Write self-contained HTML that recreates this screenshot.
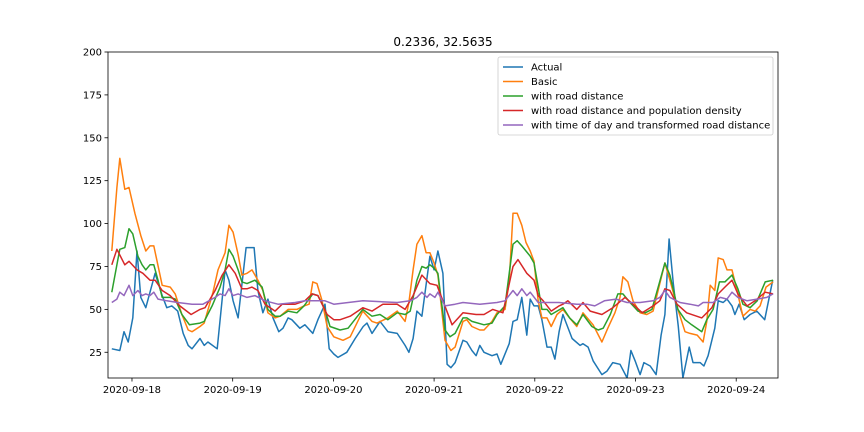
<!DOCTYPE html>
<html><head><meta charset="utf-8"><style>
body{margin:0;background:#fff;}
svg{display:block;font-family:"DejaVu Sans","Liberation Sans",sans-serif;}
</style></head><body>
<svg id="chart" width="864" height="432"></svg>
<script>
const dateLabels=["2020-09-18","2020-09-19","2020-09-20","2020-09-21","2020-09-22","2020-09-23","2020-09-24"];
const dateTickHours=[5,29,53,77,101,125,149];
const yTicks=[25,50,75,100,125,150,175,200];
const seriesNames=["Actual","Basic","with road distance","with road distance and population density","with time of day and transformed road distance"];
const actualHours=[0.2,2.1,3.1,4.1,5.2,6.2,7.1,8.3,9.3,10.5,12.2,13.3,14.5,15.9,17.2,18.4,19.3,21.2,22.2,23.1,25.3,27.2,28.1,29.1,30.3,32.2,34.1,35.0,36.2,37.4,38.6,40.0,41.0,42.2,43.1,45.0,46.2,48.1,49.3,51.0,52.0,53.1,54.1,56.2,58.2,60.1,61,62.2,64.1,66,68.2,70.1,71,72,72.9,74.1,76,77,77.9,79.1,80.1,81,82,83.9,84.8,86,87,87.9,88.9,90.8,92,92.9,94.9,95.8,96.8,97.9,99.1,99.9,100.8,101.8,102.7,103.9,104.9,105.8,106.8,107.7,109.9,111.8,112.5,113.7,114.9,117,118.2,119.6,121.3,123,123.9,124.9,126.1,127,128.5,129.9,131.1,132,133,134,135.2,136.3,137.8,138.7,140.4,141.3,142.3,143.9,144.7,145.9,146.8,148,148.7,149.7,150.9,152.3,153.9,155.8,157.7];
const actualValues=[27,26,37,31,45,84,57,51,60,71,58,51,52,49,36,29,27,33,29,31,27,73,67,55,45,86,86,61,48,56,45,37,39,45,44,39,41,36,44,53,27,24,22,25,33,40,42,36,43,37,36,29,25,33,49,46,81,73,84,71,18,16,19,32,31,26,23,29,25,23,24,18,30,43,44,57,35,56,52,52,44,28,28,21,37,47,33,29,30,28,20,12,14,19,18,10,26,20,12,19,17,12,35,47,91,65,40,10,28,19,19,17,23,39,55,54,56,52,47,53,44,47,49,44,67];
const basicHours=[0.2,1.4,2.1,3.3,4.3,5.7,7.1,8.3,9.3,10.2,12.2,14.1,15.3,16.9,18.4,19.3,21.2,22.2,24.3,25.5,27.2,28.1,29.1,30.3,31.2,32.4,33.6,35.0,36.2,37.4,39.1,40.3,42.2,44.3,46.0,47.2,48.1,49.1,50.3,51.5,53.1,55.3,57,60,62.2,63.4,66,68.2,70.1,71,72,72.9,74.1,75.1,76,77,77.9,79.6,81,82,83.9,84.8,86,87.9,88.9,90.8,92,93.9,94.9,95.8,96.8,97.9,98.9,99.9,100.8,101.8,102.7,103.9,104.9,106.3,107.7,109.3,111,112.5,114.9,117,118.4,120.1,121.3,122,123.2,124.4,126.1,127.7,129.2,130.8,132,133.2,135.1,136.8,138,139.7,141.1,142,142.8,143.9,144.7,145.9,146.8,148,149.2,150.6,152.3,153.5,154.7,156.1,157.8];
const basicValues=[84,121,138,120,121,106,93,84,87,87,64,63,59,47,38,37,40,42,60,73,83,99,95,82,70,71,73,67,61,48,45,46,50,50,52,53,66,65,55,40,34,32,34,49,43,42,45,49,43,54,73,88,93,83,83,77,70,32,26,28,43,44,40,38,38,43,48,50,66,106,106,99,89,84,78,55,45,45,40,47,50,45,40,48,41,31,39,48,57,69,66,55,48,47,49,65,77,67,50,37,36,35,31,43,64,61,80,79,73,73,61,46,50,49,52,63,66];
const roadHours=[0.2,1.4,2.1,3.3,4.3,5.2,6.4,7.4,8.3,9.3,10.2,11.2,12.2,14.1,15.3,16.9,18.7,21.2,22.2,24.1,26,27.2,28.1,29.1,30.3,31.2,32.4,34.3,36,37.4,39.1,40.3,42.2,44.3,46,48.1,49.3,51,52.2,54.6,56.5,60,62.2,64.1,66,68.2,70.1,71.3,72.9,74.1,75.1,76,77,77.9,79.6,80.8,82,83.9,84.8,86,88.9,90.8,92,93.9,95.8,96.8,97.9,99.9,100.8,101.8,102.7,103.9,104.9,106.3,107.7,109.3,111,112.5,114.6,116.1,117.3,119,120.8,122,123.7,125.6,127.3,128.9,130.4,132,133.2,135.1,136.8,138.4,140.8,142,143.5,145,146.3,148,149.4,150.6,152.3,154,155.9,157.8];
const roadValues=[60,76,85,86,97,94,81,76,73,76,76,67,57,57,56,47,41,42,43,52,63,73,85,81,73,66,65,67,63,50,46,46,49,48,52,59,58,50,40,38,39,50,46,47,44,48,47,49,67,75,74,76,74,71,38,34,36,45,45,43,41,42,47,52,88,90,87,81,77,63,50,50,47,49,51,45,41,47,40,38,39,47,59,59,54,49,48,50,63,77,70,50,44,41,37,44,50,66,66,70,62,53,51,55,66,67];
const popHours=[0.2,1.4,3.3,4.3,6.2,7.6,9.3,10.5,12.2,14.1,16.4,19.1,21.2,22.4,24.8,26.5,28.1,29.6,31.2,32.4,33.6,35,36.7,39.1,40.8,43.9,46.2,47.9,49.3,51.5,53.1,54.6,57,60,62.2,64.8,68.2,70.1,72,74.1,76,77.7,79.1,81.3,83.9,87,88.9,91,93.4,95.8,97,99.1,100.8,101.8,103,104.9,106.8,107.7,108.9,111,112.5,114.2,117,119.6,122.5,124.4,126.6,129.2,130.8,132,133.2,134.9,137.2,140.8,143.2,144.7,146.3,148,149.4,151.6,153.5,155.9,157.8];
const popValues=[76,85,76,78,73,71,67,67,61,58,52,47,50,51,61,70,76,71,62,62,63,61,53,49,53,53,55,59,58,47,44,44,46,51,49,53,53,50,58,70,65,64,55,41,48,47,47,50,48,75,79,71,67,58,55,49,52,53,55,50,54,49,47,51,57,53,48,52,55,62,61,53,48,45,51,59,63,67,59,52,55,60,59];
const todHours=[0.2,1.4,2.1,3.1,4.3,5.2,6.4,7.4,8.3,9.3,10.2,11.2,13.3,15.9,19.3,21.9,24.8,26,27.2,28.1,29.1,30.3,32.4,34.3,36.7,39.8,43.9,46.2,48.6,51,53.1,60,68.2,71.3,72.9,74.1,75.3,76,77.2,77.9,79.6,82,83.9,87.9,92,93.9,95.8,96.8,97.9,99.1,99.9,101.8,103.9,106.8,111,113.4,115.3,117.6,120.4,123,126.1,129.2,130.8,132,133.2,135.6,138,140,141.1,143.5,145.2,146.8,148,149.4,151.6,154,156.3,157.8];
const todValues=[54,56,60,58,64,58,61,58,59,58,60,56,55,54,53,53,57,59,58,62,58,59,57,58,55,53,54,55,55,55,53,55,54,55,57,60,57,59,57,60,52,53,54,53,54,55,61,58,62,58,60,54,54,54,53,53,52,55,56,54,54,55,57,61,57,54,53,52,54,54,57,56,60,57,55,56,57,59];
const colors=["#1f77b4","#ff7f0e","#2ca02c","#d62728","#9467bd"];
const allHours=[actualHours,basicHours,roadHours,popHours,todHours];
const allValues=[actualValues,basicValues,roadValues,popValues,todValues];
const L=108,R=778,T=52,B=378,yMin=10,yMax=200;
const xS=h=>111+h*4.196;
const yS=v=>B-(v-yMin)/(yMax-yMin)*(B-T);
const NS="http://www.w3.org/2000/svg";
const svg=document.getElementById('chart');
function mk(tag,attrs,parent){const e=document.createElementNS(NS,tag);for(const k in attrs)e.setAttribute(k,attrs[k]);(parent||svg).appendChild(e);return e;}
const clip=mk('clipPath',{id:'pc'});mk('rect',{x:L,y:T,width:R-L,height:B-T},clip);
allHours.forEach((hs,si)=>{
  const d=hs.map((h,i)=>(i?'L':'M')+xS(h).toFixed(1)+','+yS(allValues[si][i]).toFixed(1)).join('');
  const p=mk('path',{d:d,fill:'none',stroke:colors[si],'stroke-width':1.5,'stroke-linejoin':'round','clip-path':'url(#pc)'});
  
  
});
const frame=mk('rect',{x:L,y:T,width:R-L,height:B-T,fill:'none',stroke:'#000','stroke-width':0.8});


yTicks.forEach(v=>{
  const y=yS(v);
  mk('line',{x1:L-3.5,x2:L,y1:y,y2:y,stroke:'#000','stroke-width':0.8});
  const t=mk('text',{x:L-6,y:y+3.5,'text-anchor':'end','font-size':10});t.textContent=v;
  
  
});
dateTickHours.forEach((h,i)=>{
  const x=xS(h);
  mk('line',{x1:x,x2:x,y1:B,y2:B+3.5,stroke:'#000','stroke-width':0.8});
  const t=mk('text',{x:x,y:B+15,'text-anchor':'middle','font-size':10});t.textContent=dateLabels[i];
  
  
});
const title=mk('text',{x:443,y:46,'text-anchor':'middle','font-size':12});title.textContent="0.2336, 32.5635";


const lg=mk('g',{});


mk('rect',{x:498,y:57,width:275,height:78,rx:2,fill:'#fff','fill-opacity':0.8,stroke:'#ccc','stroke-width':0.8},lg);
seriesNames.forEach((n,i)=>{
  const y=67+i*14.5;
  mk('line',{x1:503,x2:523,y1:y,y2:y,stroke:colors[i],'stroke-width':1.5},lg);
  const t=mk('text',{x:531,y:y+3.5,'font-size':10},lg);t.textContent=n;
  
  
});
</script>
</body></html>
